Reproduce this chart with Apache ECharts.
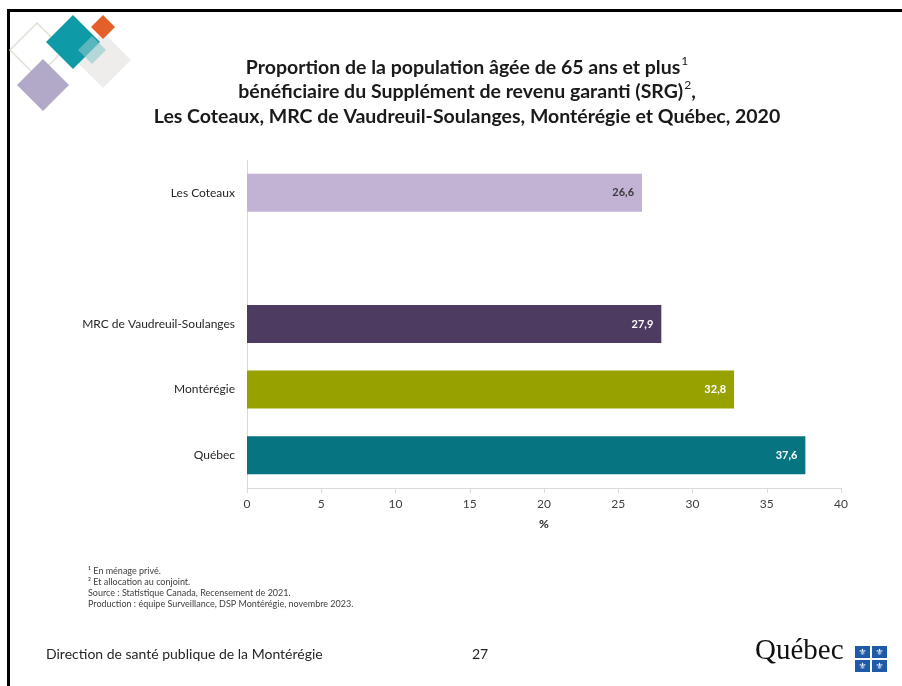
<!DOCTYPE html>
<html>
<head>
<meta charset="utf-8">
<script src="https://cdn.jsdelivr.net/npm/echarts@6/dist/echarts.min.js"></script>
<style>
    html, body { margin: 0; padding: 0; background: #fff; }
    #main { width: 902px; height: 686px; }
</style>
</head>
<body>
<div id="main"></div>
<script type="text/javascript">
    // données du graphique
    var regions = ['Les Coteaux', '', 'MRC de Vaudreuil-Soulanges', 'Montérégie', 'Québec'];
    var valeurs = [26.6, null, 27.9, 32.8, 37.6];
    var couleurs = ['#c2b3d4', '#ffffff', '#4d3b62', '#97a100', '#077482'];
    var couleursEtiquettes = ['#3a3a3a', '#ffffff', '#ffffff', '#ffffff', '#ffffff'];
    var notes = [
        '¹ En ménage privé.',
        '² Et allocation au conjoint.',
        'Source : Statistique Canada, Recensement de 2021.',
        'Production : équipe Surveillance, DSP Montérégie, novembre 2023.'
    ];

    var police = 'Lato, "Open Sans", sans-serif';
    var myChart = echarts.init(document.getElementById('main'));

    var donnees = valeurs.map(function (v, i) {
        return {
            value: v,
            itemStyle: { color: couleurs[i] },
            label: { color: couleursEtiquettes[i] }
        };
    });

    // petits losanges du logo en haut a gauche
    function losange(cx, cy, r, style, z) {
        return {
            type: 'polygon', z: z || 1,
            shape: { points: [[cx, cy - r], [cx + r, cy], [cx, cy + r], [cx - r, cy]] },
            style: style
        };
    }

    var fleur = [];
    [[855, 646], [872, 646], [855, 660], [872, 660]].forEach(function (p) {
        fleur.push({ type: 'rect', shape: { x: p[0], y: p[1], width: 15, height: 12 }, style: { fill: '#1f5aa8' } });
        fleur.push({ type: 'text', x: p[0] + 7.5, y: p[1] + 6.5, style: { text: '⚜', fill: '#fff', font: '9px "DejaVu Sans"', align: 'center', verticalAlign: 'middle' } });
    });

    var option = {
        backgroundColor: '#fff',
        textStyle: { fontFamily: police },
        title: {
            left: 462,
            textAlign: 'center',
            top: 50,
            text: 'Proportion de la population âgée de 65 ans et plus{sup|1}\nbénéficiaire du Supplément de revenu garanti (SRG){sup|2},\nLes Coteaux, MRC de Vaudreuil-Soulanges, Montérégie et Québec, 2020',
            textStyle: {
                fontFamily: police, fontSize: 19.5, fontWeight: 'bold', color: '#1a1a1a', lineHeight: 24.5,
                rich: { sup: { fontSize: 12, fontWeight: 'normal', verticalAlign: 'top', padding: [0, 0, 7, 1], color: '#1a1a1a' } }
            }
        },
        grid: { left: 247, right: 61, top: 160, height: 328, containLabel: false },
        xAxis: {
            type: 'value',
            min: 0, max: 40, interval: 5,
            name: '%',
            nameLocation: 'middle',
            nameGap: 30,
            nameTextStyle: { fontFamily: police, fontSize: 12, fontWeight: 'bold', color: '#262626' },
            axisLine: { show: true, lineStyle: { color: '#d9d9d9' } },
            axisTick: { show: true, length: 5, lineStyle: { color: '#d9d9d9' } },
            axisLabel: { fontFamily: police, fontSize: 12, color: '#404040', margin: 10 },
            splitLine: { show: false }
        },
        yAxis: {
            type: 'category',
            inverse: true,
            data: regions,
            axisLine: { show: true, lineStyle: { color: '#d9d9d9' } },
            axisTick: { show: false },
            axisLabel: { fontFamily: police, fontSize: 12, color: '#262626', margin: 12 }
        },
        series: [{
            type: 'bar',
            data: donnees,
            barWidth: 38,
            label: {
                show: true,
                position: 'insideRight',
                distance: 8,
                fontFamily: police,
                fontSize: 11,
                fontWeight: 'bold',
                formatter: function (p) {
                    return p.value == null ? '' : p.value.toFixed(1).replace('.', ',');
                }
            }
        }],
        graphic: [
            // cadre de la diapositive
            { type: 'rect', shape: { x: 8, y: 9, width: 894, height: 3 }, style: { fill: '#000' } },
            { type: 'rect', shape: { x: 7, y: 9, width: 3, height: 677 }, style: { fill: '#000' } },
            // logo
            losange(37, 50, 27, { fill: 'none', stroke: '#dde3d6', lineWidth: 1.5 }, 1),
            losange(103, 60, 28, { fill: '#ecebea', opacity: 0.9 }, 2),
            losange(73, 42, 27, { fill: '#0f9aa8' }, 3),
            losange(103, 27, 12, { fill: '#e4602a' }, 4),
            losange(92, 50, 14, { fill: '#8dc8cc', opacity: 0.6 }, 5),
            losange(43, 85, 26, { fill: '#b2a9c8' }, 3),
            // notes
            {
                type: 'text', left: 88, top: 566,
                style: { text: notes.join('\n'), font: '9px ' + police, fill: '#404040', lineHeight: 11 }
            },
            // pied de page
            { type: 'text', left: 46, top: 647, style: { text: 'Direction de santé publique de la Montérégie', font: '14px ' + police, fill: '#262626' } },
            { type: 'text', left: 472, top: 647, style: { text: '27', font: '14px ' + police, fill: '#262626' } },
            { type: 'text', left: 755, top: 637, style: { text: 'Québec', font: '29px "Liberation Serif", serif', fill: '#111' } }
        ].concat(fleur)
    };

    myChart.setOption(option);
</script>
</body>
</html>
